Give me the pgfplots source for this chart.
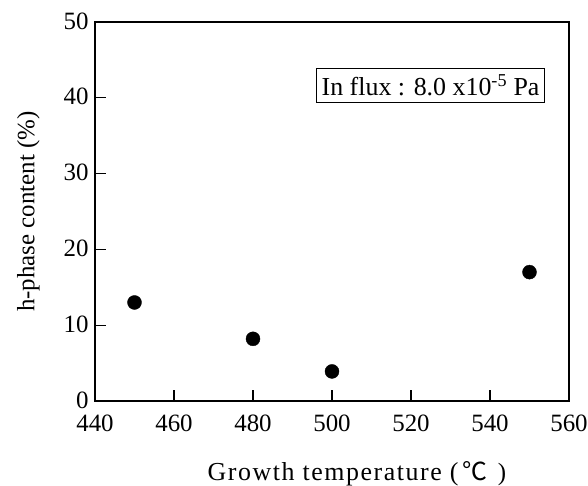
\documentclass[border=0pt]{standalone}
\usepackage{fontspec}
\setmainfont{Liberation Serif}
\newfontfamily\wide[LetterSpace=6]{Liberation Serif}
\newfontfamily\cjk{Noto Sans CJK SC}
\usepackage{pgfplots}
\pgfplotsset{compat=1.18}
\begin{document}
\begin{tikzpicture}
\begin{axis}[
  name=ax,
  scale only axis,
  width=474bp, height=379bp,
  xmin=440, xmax=560, ymin=0, ymax=50,
  xtick={440,460,...,560}, ytick={0,10,...,50},
  xtick pos=bottom, ytick pos=left,
  tick align=inside,
  major tick length=11bp,
  axis line style={line width=1.2pt},
  every tick/.style={black, line width=1.2pt},
  /pgf/number format/assume math mode=true,
  tick label style={font=\fontsize{25}{28}\selectfont},
  label style={font=\fontsize{25}{28}\selectfont},
  xticklabel style={yshift=-10bp},
  yticklabel style={xshift=-3bp, yshift=1bp},
  xlabel={{\wide\fontsize{26}{28}\selectfont Growth temperature (}\,{\cjk ℃}\, )},
  ylabel={h-phase content (\%)},
  xlabel style={yshift=-23bp, xshift=25bp},
  ylabel style={yshift=17bp},
]
\addplot[only marks, mark=*, mark size=7bp, black] coordinates {
  (450,13.0) (480,8.2) (500,3.9) (550,17.0)
};
\node[draw, line width=0.9pt, inner xsep=5bp, inner ysep=6bp, font=\fontsize{26}{28}\selectfont, anchor=center]
  at (rel axis cs:0.708,0.8325) {In flux : 8.0 x10\textsuperscript{-5} Pa};
\end{axis}
\pgfresetboundingbox
\useasboundingbox ([shift={(-95bp,-85bp)}]ax.south west) rectangle ([shift={(19bp,22bp)}]ax.north east);
\end{tikzpicture}
\end{document}
